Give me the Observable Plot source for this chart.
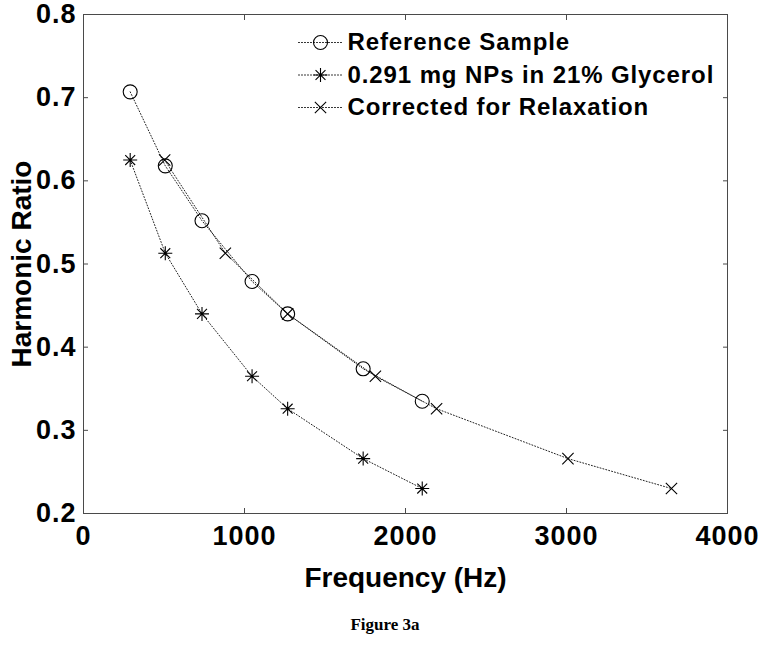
<!DOCTYPE html>
<html><head><meta charset="utf-8">
<script src="https://cdn.jsdelivr.net/npm/d3@7"></script>
<script src="https://cdn.jsdelivr.net/npm/@observablehq/plot@0.6"></script>
<style>
body{margin:0;background:#fff;}
#chart{position:relative;width:762px;height:645px;overflow:hidden;}
#chart svg{position:absolute;left:0;top:0;}
.tl text{letter-spacing:1px;}
.ll text{letter-spacing:0.9px;}
.cap{position:absolute;left:0;width:770px;text-align:center;top:615px;font-family:"Liberation Serif",serif;font-weight:bold;font-size:17px;color:#000;}
</style></head><body>
<div id="chart"><div class="cap">Figure 3a</div></div>
<script>
// ---- data ----
const freqMeasured   = [290, 508, 736, 1047, 1268, 1737, 2104];
const ratioReference = [0.707, 0.618, 0.552, 0.479, 0.440, 0.374, 0.335];
const ratioNPs       = [0.625, 0.513, 0.440, 0.365, 0.326, 0.266, 0.230];
const freqCorrected  = [504, 881, 1268, 1813, 2193, 3009, 3652];
const ratioCorrected = [0.625, 0.513, 0.440, 0.365, 0.326, 0.266, 0.230];
const seriesNames = ["Reference Sample", "0.291 mg NPs in 21% Glycerol", "Corrected for Relaxation"];
const xTicks = [0, 1000, 2000, 3000, 4000];
const yTicks = [0.2, 0.3, 0.4, 0.5, 0.6, 0.7, 0.8];
const xLabel = "Frequency (Hz)";
const yLabel = "Harmonic Ratio";

// ---- tables ----
const refData = freqMeasured.map((f, i) => ({f, r: ratioReference[i]}));
const npData  = freqMeasured.map((f, i) => ({f, r: ratioNPs[i]}));
const corData = freqCorrected.map((f, i) => ({f, r: ratioCorrected[i]}));

// ---- MATLAB-like markers ----
const symCircle = {draw(ctx, size) {const r = Math.sqrt(size / Math.PI); ctx.moveTo(r, 0); ctx.arc(0, 0, r, 0, 2 * Math.PI);}};
const symStar = {draw(ctx, size) {const r = Math.sqrt(size / Math.PI), d = r * Math.SQRT1_2;
  ctx.moveTo(-r, 0); ctx.lineTo(r, 0); ctx.moveTo(0, -r); ctx.lineTo(0, r);
  ctx.moveTo(-d, -d); ctx.lineTo(d, d); ctx.moveTo(-d, d); ctx.lineTo(d, -d);}};
const symX = {draw(ctx, size) {const r = Math.sqrt(size / Math.PI) * Math.SQRT1_2;
  ctx.moveTo(-r, -r); ctx.lineTo(r, r); ctx.moveTo(-r, r); ctx.lineTo(r, -r);}};
const symbols = [symCircle, symStar, symX];
const radii = [7, 7, 8];
const tables = [refData, npData, corData];

const lineStyle = {stroke: "#222", strokeWidth: 1, strokeDasharray: "1,2"};
const dotStyle = {stroke: "#000", fill: "none", strokeWidth: 1.1};
const tickFont = {fontSize: 27, fontWeight: "bold", fill: "#000"};
const hline = {draw(ctx, l) {ctx.moveTo(0, 0); ctx.lineTo(0, -l);}};

const marks = [Plot.frame({stroke: "#4a4a4a", strokeWidth: 1})];
tables.forEach((t, i) => {
  marks.push(Plot.line(t, {x: "f", y: "r", ...lineStyle}));
});
tables.forEach((t, i) => {
  marks.push(Plot.dot(t, {x: "f", y: "r", symbol: symbols[i], r: radii[i], ...dotStyle}));
});
// legend (inside the frame, top right)
seriesNames.forEach((name, i) => {
  const dy = 28 + i * 32.5;
  marks.push(Plot.vector([name], {frameAnchor: "top-left", dx: 215, dy, rotate: 90, length: 44, anchor: "start", shape: hline, ...lineStyle}));
  marks.push(Plot.dot([name], {frameAnchor: "top-left", dx: 237, dy, symbol: symbols[i], r: radii[i], ...dotStyle}));
  marks.push(Plot.text([name], {frameAnchor: "top-left", dx: 264, dy, text: d => d, textAnchor: "start", lineAnchor: "middle", fontSize: 24, fontWeight: "bold", fill: "#000", className: "ll"}));
});
// axes: labels
marks.push(Plot.axisX({ticks: xTicks, tickSize: 0, tickPadding: 12, tickFormat: d3.format("d"), label: null, ...tickFont, className: "tl"}));
marks.push(Plot.axisY({ticks: yTicks, tickSize: 0, tickPadding: 7, tickFormat: d3.format(".1f"), label: null, ...tickFont, className: "tl"}));
// axes: inward ticks on all four sides
marks.push(Plot.axisX({ticks: xTicks, anchor: "bottom", tickSize: -5, tickFormat: () => "", label: null, stroke: "#4a4a4a"}));
marks.push(Plot.axisX({ticks: xTicks, anchor: "top", tickSize: -5, tickFormat: () => "", label: null, stroke: "#4a4a4a"}));
marks.push(Plot.axisY({ticks: yTicks, anchor: "left", tickSize: -5, tickFormat: () => "", label: null, stroke: "#4a4a4a"}));
marks.push(Plot.axisY({ticks: yTicks, anchor: "right", tickSize: -5, tickFormat: () => "", label: null, stroke: "#4a4a4a"}));
// axis titles
marks.push(Plot.text([xLabel], {frameAnchor: "bottom", dy: 65, text: d => d, textAnchor: "middle", lineAnchor: "middle", fontSize: 28, fontWeight: "bold", fill: "#000"}));
marks.push(Plot.text([yLabel], {frameAnchor: "left", dx: -61, text: d => d, rotate: -90, textAnchor: "middle", lineAnchor: "middle", fontSize: 28, fontWeight: "bold", fill: "#000"}));

const chart = Plot.plot({
  width: 762, height: 610,
  marginTop: 14, marginLeft: 83, marginRight: 35, marginBottom: 97,
  x: {domain: [0, 4000]},
  y: {domain: [0.2, 0.8]},
  style: {fontFamily: "'Liberation Sans', Arial, sans-serif", background: "#fff", overflow: "visible"},
  marks
});
document.getElementById("chart").appendChild(chart);
</script>
</body></html>
